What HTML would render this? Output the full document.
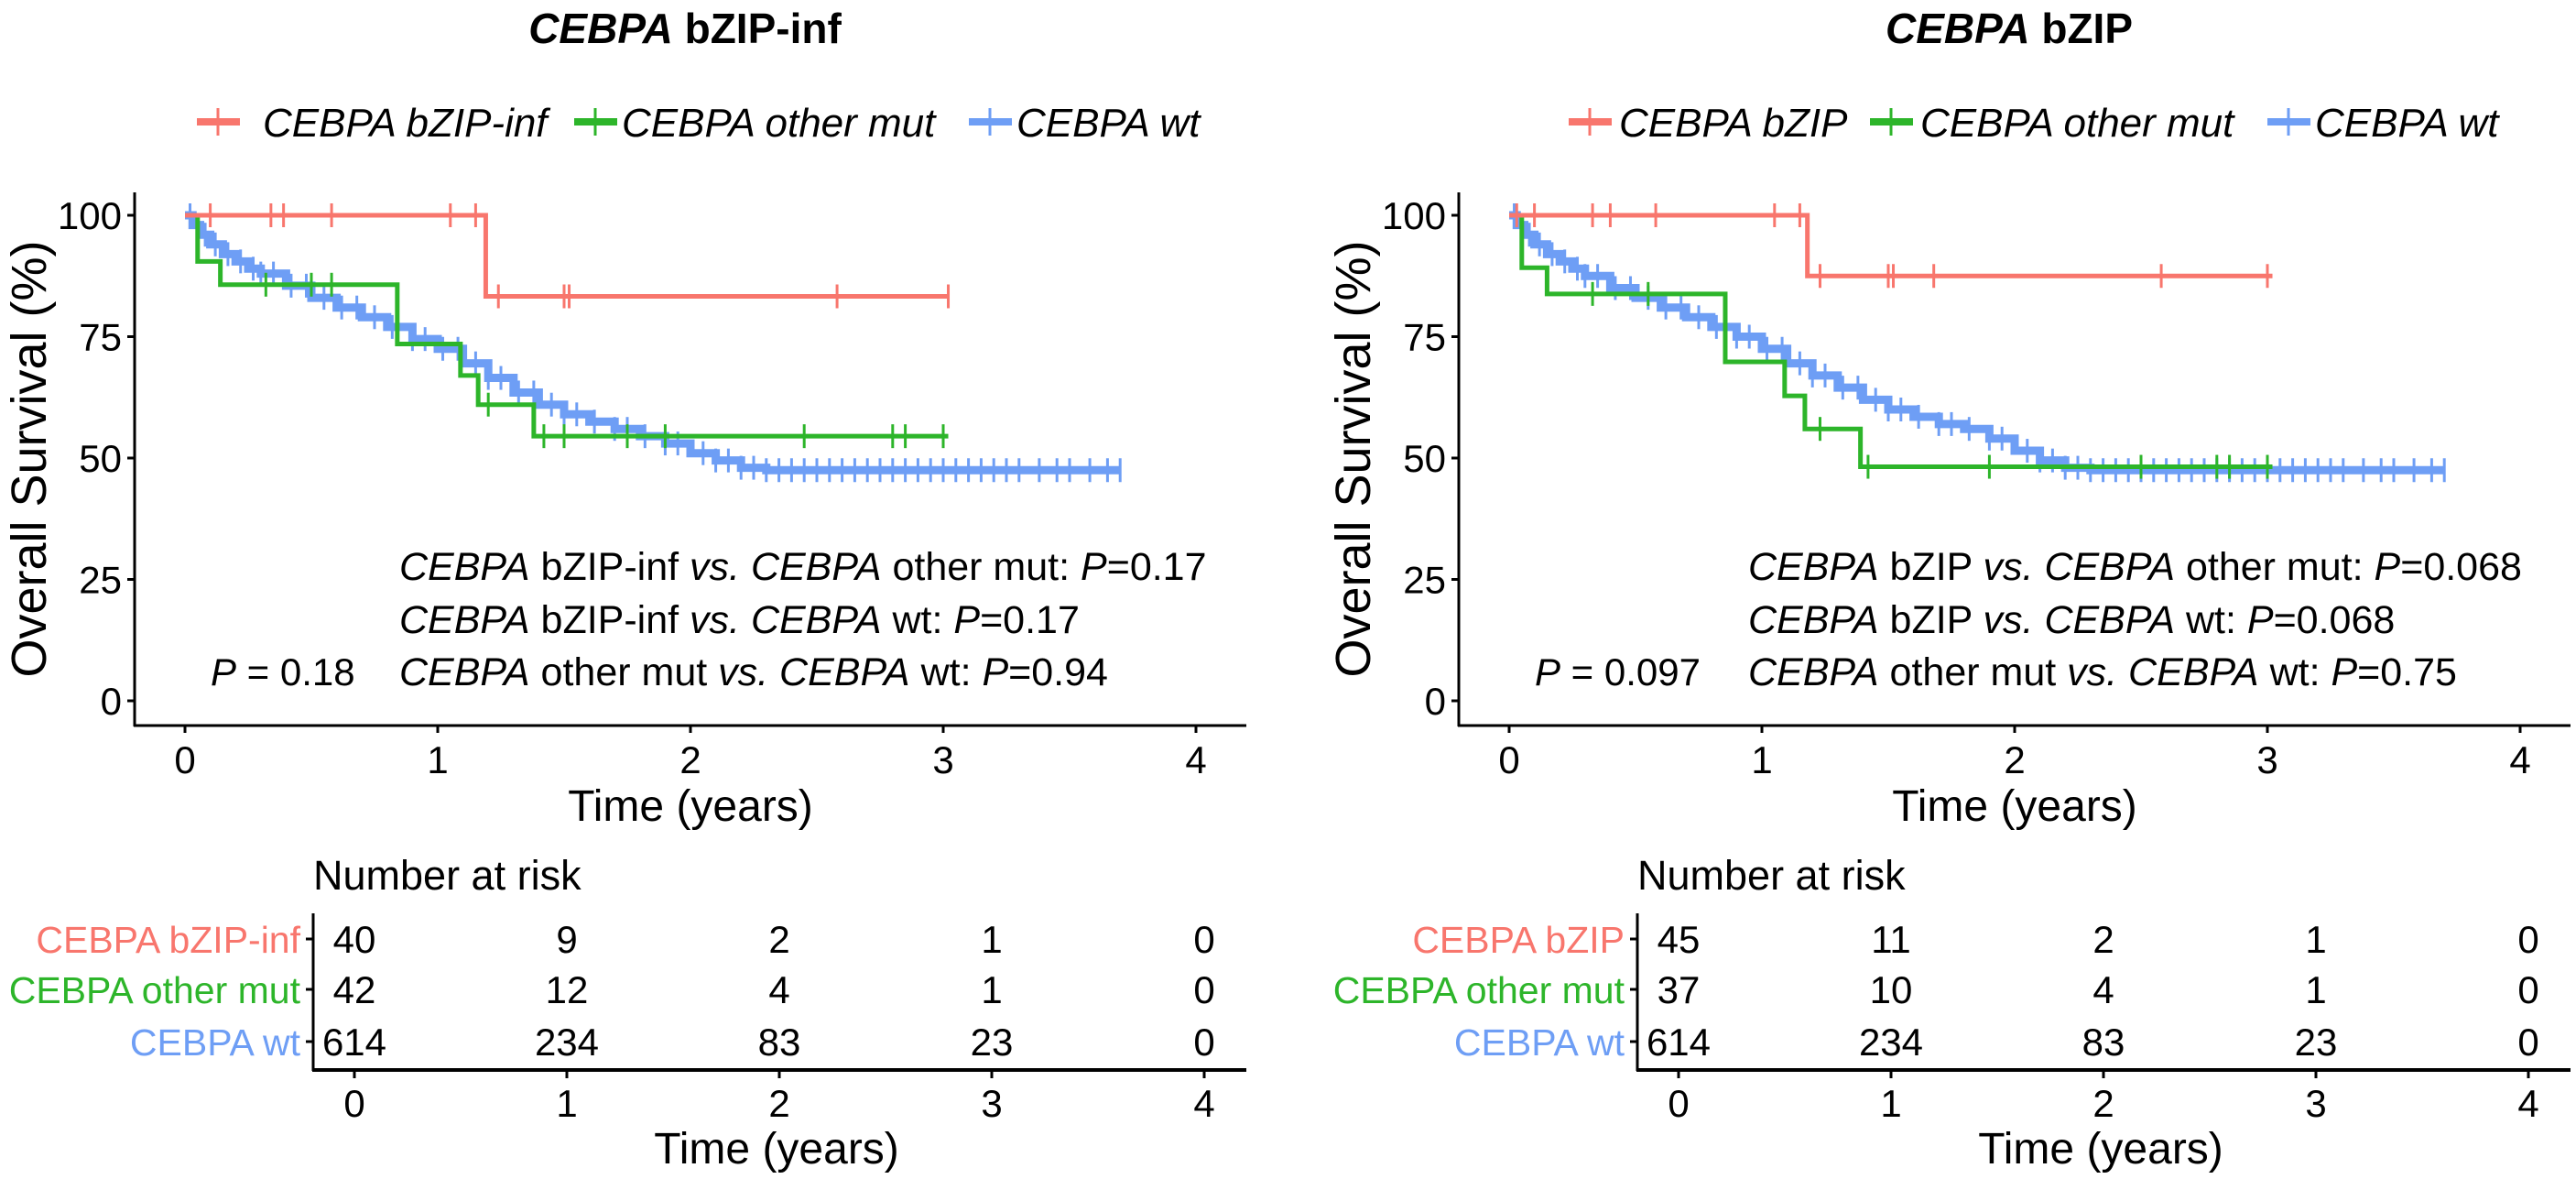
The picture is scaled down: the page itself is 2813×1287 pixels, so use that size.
<!DOCTYPE html>
<html><head><meta charset="utf-8">
<style>
html,body{margin:0;padding:0;background:#fff;}
svg{display:block;font-family:"Liberation Sans",Arial,sans-serif;}
</style></head>
<body>
<svg id="fig" width="2813" height="1287" viewBox="0 0 2813 1287" xmlns="http://www.w3.org/2000/svg"></svg>
<script>
// ---------- data ----------
const yTicks = [0,25,50,75,100];
const xTicks = [0,1,2,3,4];
const groupColors = ["#F8766D","#2DB52A","#6E9EF5"];

// Panel A (bZIP-inf)
const aTitle = "bZIP-inf";
const aRedT = [0,1.19,3.02];           const aRedS = [100,83.3,83.3];
const aRedCT = [0.1,0.34,0.39,0.58,1.05,1.15,1.24,1.50,1.52,2.58,3.02];
const aGreenT = [0,0.05,0.14,0.84,1.09,1.16,1.38,3.02];
const aGreenS = [100,90.5,85.7,73.5,67,61,54.5,54.5];
const aGreenCT = [0.32,0.5,0.58,1.2,1.42,1.5,1.75,1.9,2.45,2.8,2.85,3.0];
const blueT = [0,0.03,0.06,0.1,0.15,0.2,0.25,0.3,0.4,0.5,0.6,0.7,0.8,0.9,1.0,1.1,1.2,1.3,1.4,1.5,1.6,1.7,1.8,1.9,2.0,2.1,2.2,2.3,3.7];
const aBlueS = [100,98,96,94,92,90.5,89,88,85.5,83,81,79,77,74.5,72.5,69.5,66.5,63.5,61,59,57.5,56,54.5,53,51,49.5,48,47.5,47.5];
const bBlueS = [100,98,96,94,92,90.5,89,87.5,85,83,81,79,77,75,72.5,69.5,67,64.5,62,60,58.5,57,56,54,51.5,49.5,48,47.5,47.5];
const blueCT = [0.02,0.05,0.08,0.12,0.17,0.22,0.27,0.3,0.35,0.42,0.48,0.55,0.62,0.68,0.75,0.82,0.9,0.95,1.02,1.08,1.15,1.2,1.25,1.32,1.38,1.45,1.5,1.55,1.62,1.7,1.75,1.82,1.9,1.95,2.05,2.1,2.15,2.2,2.25,2.3,2.35,2.4,2.45,2.5,2.55,2.6,2.65,2.7,2.75,2.8,2.85,2.9,2.95,3.0,3.05,3.1,3.15,3.2,3.25,3.3,3.38,3.45,3.5,3.58,3.65,3.7];
const aP = "0.18";
const aPairs = ["0.17","0.17","0.94"];
const aRisk = [[40,9,2,1,0],[42,12,4,1,0],[614,234,83,23,0]];

// Panel B (bZIP)
const bTitle = "bZIP";
const bRedT = [0,1.18,3.02];           const bRedS = [100,87.5,87.5];
const bRedCT = [0.03,0.1,0.33,0.4,0.58,1.05,1.15,1.23,1.5,1.52,1.68,2.58,3.0];
const bGreenT = [0,0.05,0.15,0.855,1.09,1.17,1.39,3.02];
const bGreenS = [100,89.2,83.8,69.8,62.8,56,48.2,48.2];
const bGreenCT = [0.33,0.55,1.23,1.42,1.9,2.5,2.8,2.85,3.0];
const bP = "0.097";
const bPairs = ["0.068","0.068","0.75"];
const bRisk = [[45,11,2,1,0],[37,10,4,1,0],[614,234,83,23,0]];

// ---------- drawing ----------
const NS="http://www.w3.org/2000/svg";
const svg=document.getElementById('fig');
function el(tag,attrs,parent){const e=document.createElementNS(NS,tag);for(const k in attrs)e.setAttribute(k,attrs[k]);(parent||svg).appendChild(e);return e;}

function panel(off, title, gname, red, green, blueS, pval, pairs, risk){
  const g=el('g',{});
  
  
  const X=t=>off+202+276*t;
  const Y=s=>765-5.3*s;
  const TX=t=>off+387+232*t;
  // title
  const tt=el('text',{x:off+748,y:47,'text-anchor':'middle','font-size':46,'font-weight':'bold'},g);
  
  
  tt.innerHTML='<tspan font-style="italic">CEBPA</tspan> '+title;
  // legend
  const legX = off===0 ? [220,632,1063] : [1718,2047,2481];
  const legTX = off===0 ? [287,679,1110] : [1768,2097,2528];
  const legNames=['CEBPA '+gname,'CEBPA other mut','CEBPA wt'];
  for(let i=0;i<3;i++){
    const lg=el('g',{},g);
    
    
    el('line',{x1:legX[i]-5,x2:legX[i]+42,y1:133,y2:133,stroke:groupColors[i],'stroke-width':8},lg);
    el('line',{x1:legX[i]+18,x2:legX[i]+18,y1:118,y2:148,stroke:groupColors[i],'stroke-width':3},lg);
    const t=el('text',{x:legTX[i],y:149,'font-size':44,'font-style':'italic'},lg);
    t.textContent=legNames[i];
  }
  // axes
  const ax=el('g',{},g);
  
  
  el('line',{x1:off+147,x2:off+147,y1:210,y2:793,stroke:'#000','stroke-width':3},ax);
  yTicks.forEach(v=>{
    el('line',{x1:off+139,x2:off+147,y1:Y(v),y2:Y(v),stroke:'#000','stroke-width':3},ax);
    const t=el('text',{x:off+133,y:Y(v)+15,'text-anchor':'end','font-size':42},ax);
    t.textContent=v;
  });
  const xa=el('g',{},g);
  
  
  el('line',{x1:off+146,x2:off+1361,y1:792,y2:792,stroke:'#000','stroke-width':3},xa);
  xTicks.forEach(v=>{
    el('line',{x1:X(v),x2:X(v),y1:792,y2:800,stroke:'#000','stroke-width':3},xa);
    const t=el('text',{x:X(v),y:844,'text-anchor':'middle','font-size':42},xa);
    t.textContent=v;
  });
  const yl=el('text',{x:off+50,y:501,'text-anchor':'middle','font-size':54,transform:`rotate(-90 ${off+50} 501)`},g);
  
  
  yl.textContent='Overall Survival (%)';
  const xl=el('text',{x:off+754,y:896,'text-anchor':'middle','font-size':48},g);
  
  
  xl.textContent='Time (years)';
  // curves
  function curve(T,S,CT,color,name,w){
    const cg=el('g',{},g);
    
    
    let d=`M${X(T[0])},${Y(S[0])}`;
    for(let i=1;i<T.length;i++){d+=` H${X(T[i])} V${Y(S[i])}`;}
    el('path',{d:d,fill:'none',stroke:color,'stroke-width':w},cg);
    CT.forEach(ct=>{
      let s=S[0];for(let i=0;i<T.length;i++){if(T[i]<=ct)s=S[i];}
      const m=el('line',{x1:X(ct),x2:X(ct),y1:Y(s)-13,y2:Y(s)+13,stroke:color,'stroke-width':3},cg);
      
      
    });
  }
  curve(blueT,blueS,blueCT,groupColors[2],'curve-wt',9);
  curve(green[0],green[1],green[2],groupColors[1],'curve-other-mut',5);
  curve(red[0],red[1],red[2],groupColors[0],'curve-'+gname.toLowerCase().replace(/[^a-z]/g,''),5);
  // annotations
  const ann=el('g',{},g);
  
  
  const px = 230;
  const pt=el('text',{x:off+px,y:748,'font-size':42},ann);
  pt.innerHTML=`<tspan font-style="italic">P</tspan> = ${pval}`;
  const ax0 = off===0?436:463;
  const lines=[
    `<tspan font-style="italic">CEBPA</tspan> ${gname} <tspan font-style="italic">vs.</tspan> <tspan font-style="italic">CEBPA</tspan> other mut: <tspan font-style="italic">P</tspan>=${pairs[0]}`,
    `<tspan font-style="italic">CEBPA</tspan> ${gname} <tspan font-style="italic">vs.</tspan> <tspan font-style="italic">CEBPA</tspan> wt: <tspan font-style="italic">P</tspan>=${pairs[1]}`,
    `<tspan font-style="italic">CEBPA</tspan> other mut <tspan font-style="italic">vs.</tspan> <tspan font-style="italic">CEBPA</tspan> wt: <tspan font-style="italic">P</tspan>=${pairs[2]}`];
  const ly=[633,691,748];
  lines.forEach((h,i)=>{const t=el('text',{x:off+ax0,y:ly[i],'font-size':43},ann);t.innerHTML=h;});
  // risk table
  const rt=el('g',{},g);
  
  
  const nr=el('text',{x:off+342,y:971,'font-size':45},rt);
  nr.textContent='Number at risk';
  el('line',{x1:off+342,x2:off+342,y1:997,y2:1169,stroke:'#000','stroke-width':3},rt);
  el('line',{x1:off+341,x2:off+1361,y1:1168,y2:1168,stroke:'#000','stroke-width':4},rt);
  const rowY=[1025,1080,1137];
  for(let r=0;r<3;r++){
    el('line',{x1:off+334,x2:off+342,y1:rowY[r],y2:rowY[r],stroke:'#000','stroke-width':3},rt);
    const lab=el('text',{x:off+328,y:rowY[r]+15,'text-anchor':'end','font-size':41,fill:groupColors[r]},rt);
    lab.textContent=legNames[r];
    risk[r].forEach((v,c)=>{
      const t=el('text',{x:TX(xTicks[c]),y:rowY[r]+15,'text-anchor':'middle','font-size':42},rt);
      t.textContent=v;
    });
  }
  xTicks.forEach(v=>{
    el('line',{x1:TX(v),x2:TX(v),y1:1168,y2:1177,stroke:'#000','stroke-width':3},rt);
    const t=el('text',{x:TX(v),y:1219,'text-anchor':'middle','font-size':42},rt);
    t.textContent=v;
  });
  const rx=el('text',{x:off+848,y:1270,'text-anchor':'middle','font-size':48},rt);
  rx.textContent='Time (years)';
}
panel(0,aTitle,'bZIP-inf',[aRedT,aRedS,aRedCT],[aGreenT,aGreenS,aGreenCT],aBlueS,aP,aPairs,aRisk);
panel(1446,bTitle,'bZIP',[bRedT,bRedS,bRedCT],[bGreenT,bGreenS,bGreenCT],bBlueS,bP,bPairs,bRisk);
</script>
</body></html>
